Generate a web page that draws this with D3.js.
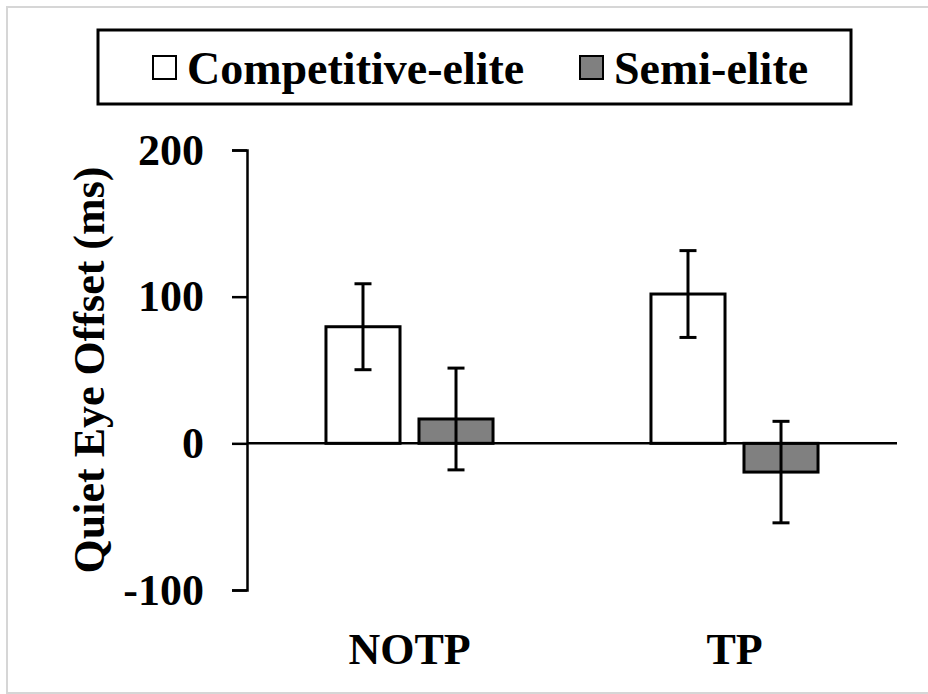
<!DOCTYPE html>
<html>
<head>
<meta charset="utf-8">
<script src="https://cdn.jsdelivr.net/npm/d3@7"></script>
<style>
  body { margin: 0; background: #fff; }
  text { font-family: "Liberation Serif", "Times New Roman", serif; font-weight: bold; fill: #000; }
</style>
</head>
<body>
<div id="chart"></div>
<script>
// Data
var conditions = ['NOTP', 'TP'];
var groups = ['Competitive-elite', 'Semi-elite'];
var groupFills = ['#ffffff', '#808080'];
var competitiveMeans = [79.5, 101.8];
var competitiveErrors = [29.3, 29.6];
var semiMeans = [16.6, -19.6];
var semiErrors = [34.7, 34.6];
var yTicks = [-100, 0, 100, 200];

var width = 928;
var height = 694;

var svg = d3.select('#chart').append('svg')
    .attr('width', width)
    .attr('height', height);

// light grey frame around the picture
svg.append('rect')
    .attr('x', 7)
    .attr('y', 7)
    .attr('width', width)
    .attr('height', height - 8)
    .attr('fill', 'none')
    .attr('stroke', '#d6d6d6')
    .attr('stroke-width', 2);

var rows = [];
conditions.forEach(function(c, i) {
    rows.push({cond: c, group: groups[0], mean: competitiveMeans[i], err: competitiveErrors[i]});
    rows.push({cond: c, group: groups[1], mean: semiMeans[i], err: semiErrors[i]});
});

var y = d3.scaleLinear()
    .domain([-100, 200])
    .range([590, 150]);

var x0 = d3.scaleBand()
    .domain(conditions)
    .range([247, 897])
    .paddingInner(0.486)
    .paddingOuter(0.243);

var x1 = d3.scaleBand()
    .domain(groups)
    .range([0, x0.bandwidth()])
    .paddingInner(0.204);

var color = d3.scaleOrdinal().domain(groups).range(groupFills);

// bars
svg.append('g').selectAll('rect')
    .data(rows)
    .enter()
    .append('rect')
    .attr('x', d => x0(d.cond) + x1(d.group))
    .attr('y', d => y(Math.max(0, d.mean)))
    .attr('width', x1.bandwidth())
    .attr('height', d => Math.abs(y(d.mean) - y(0)))
    .attr('fill', d => color(d.group))
    .attr('stroke', '#000')
    .attr('stroke-width', 3);

// x axis line at zero
svg.append('line')
    .attr('x1', 247)
    .attr('x2', 897)
    .attr('y1', y(0))
    .attr('y2', y(0))
    .attr('stroke', '#000')
    .attr('stroke-width', 2.5);

// error bars
var capHalf = 8.5;
var errs = svg.append('g').selectAll('g')
    .data(rows)
    .enter()
    .append('g')
    .attr('stroke', '#000')
    .attr('stroke-width', 3);

errs.append('line')
    .attr('x1', d => x0(d.cond) + x1(d.group) + x1.bandwidth() / 2)
    .attr('x2', d => x0(d.cond) + x1(d.group) + x1.bandwidth() / 2)
    .attr('y1', d => y(d.mean + d.err))
    .attr('y2', d => y(d.mean - d.err));
errs.append('line')
    .attr('x1', d => x0(d.cond) + x1(d.group) + x1.bandwidth() / 2 - capHalf)
    .attr('x2', d => x0(d.cond) + x1(d.group) + x1.bandwidth() / 2 + capHalf)
    .attr('y1', d => y(d.mean + d.err))
    .attr('y2', d => y(d.mean + d.err));
errs.append('line')
    .attr('x1', d => x0(d.cond) + x1(d.group) + x1.bandwidth() / 2 - capHalf)
    .attr('x2', d => x0(d.cond) + x1(d.group) + x1.bandwidth() / 2 + capHalf)
    .attr('y1', d => y(d.mean - d.err))
    .attr('y2', d => y(d.mean - d.err));

// y axis (plain hyphen for the negative label, as in the original)
var yAxis = svg.append('g')
    .attr('transform', 'translate(247,0)')
    .call(d3.axisLeft(y)
        .tickValues(yTicks)
        .tickFormat(d => String(d))
        .tickSize(15)
        .tickSizeOuter(15)
        .tickPadding(28));
yAxis.select('.domain').attr('stroke-width', 2.5);
yAxis.selectAll('.tick line').attr('stroke-width', 2.5);
yAxis.selectAll('.tick text')
    .style('font-family', '"Liberation Serif", serif')
    .style('font-weight', 'bold')
    .style('font-size', '44px');

// y axis title
svg.append('text')
    .attr('transform', 'translate(104,' + (y(50)) + ') rotate(-90)')
    .attr('text-anchor', 'middle')
    .style('font-size', '44px')
    .text('Quiet Eye Offset (ms)');

// category labels
svg.append('g').selectAll('text')
    .data(conditions)
    .enter()
    .append('text')
    .attr('x', d => x0(d) + x0.bandwidth() / 2)
    .attr('y', 664)
    .attr('text-anchor', 'middle')
    .style('font-size', '44px')
    .text(d => d);

// legend
var legend = svg.append('g');
legend.append('rect')
    .attr('x', 98)
    .attr('y', 30)
    .attr('width', 753)
    .attr('height', 74)
    .attr('fill', '#fff')
    .attr('stroke', '#000')
    .attr('stroke-width', 3);

var legendX = [153, 580];
var items = legend.selectAll('g.item')
    .data(groups)
    .enter()
    .append('g')
    .attr('class', 'item')
    .attr('transform', (d, i) => 'translate(' + legendX[i] + ',0)');
items.append('rect')
    .attr('x', 0)
    .attr('y', 56)
    .attr('width', 23)
    .attr('height', 23)
    .attr('fill', d => color(d))
    .attr('stroke', '#000')
    .attr('stroke-width', 2);
items.append('text')
    .attr('x', 34)
    .attr('y', 84)
    .style('font-size', '46px')
    .text(d => d);
</script>
</body>
</html>
